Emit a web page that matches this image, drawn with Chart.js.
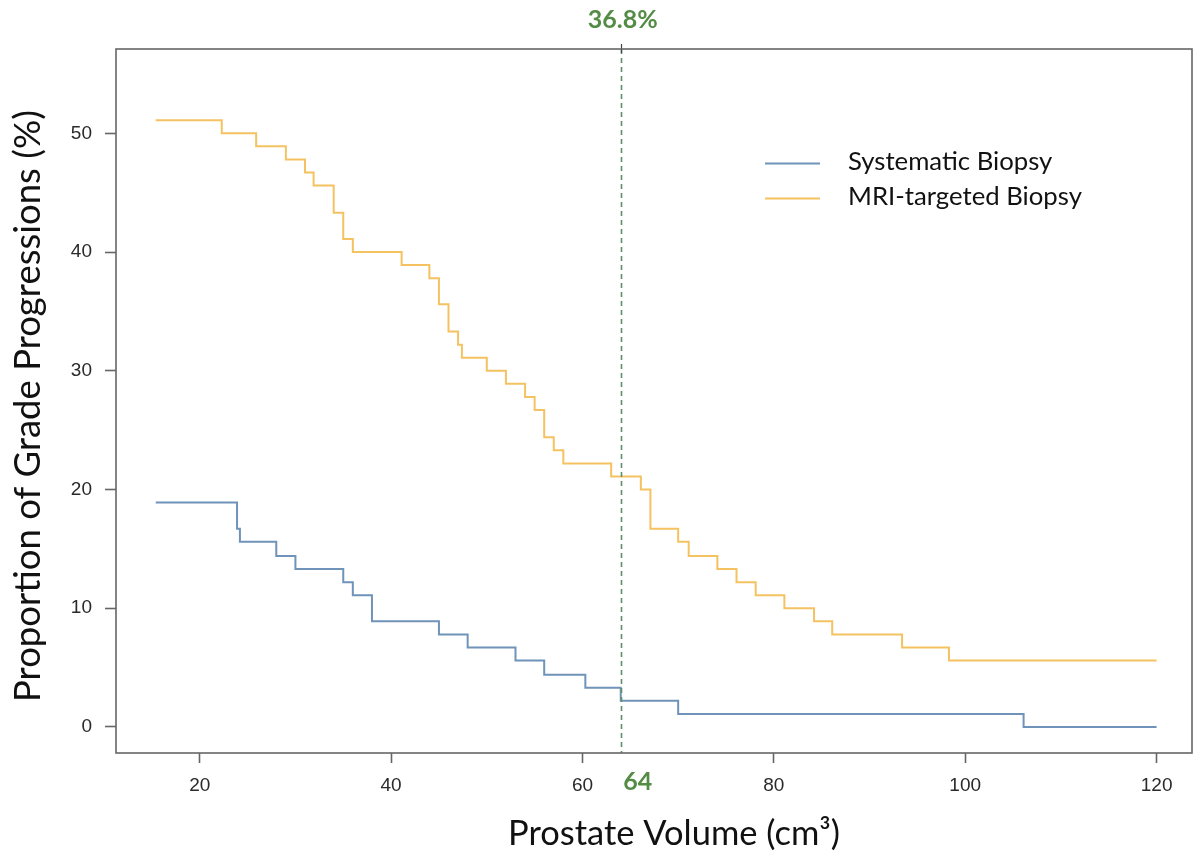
<!DOCTYPE html>
<html>
<head>
<meta charset="utf-8">
<script src="https://cdn.jsdelivr.net/npm/chart.js@4.4.0/dist/chart.umd.min.js"></script>
<style>
  html, body { margin: 0; padding: 0; background: #ffffff; }
  #wrap { width: 1200px; height: 861px; }
</style>
</head>
<body>
<div id="wrap"><canvas id="c" width="1200" height="861"></canvas></div>
<script>
// ---- Data ----
const seriesNames = ['Systematic Biopsy', 'MRI-targeted Biopsy'];

const sysVolume = [15.4, 23.9, 24.2, 28.0, 30.0, 35.0, 36.0, 38.0, 45.0, 48.0, 53.0, 56.0, 60.3, 64.0, 70.0, 106.1, 120.0];
const sysPct    = [18.9, 16.7, 15.6, 14.4, 13.3, 12.2, 11.1, 8.9, 7.8, 6.7, 5.6, 4.4, 3.3, 2.2, 1.1, 0.0, 0.0];

const mriVolume = [15.4, 22.3, 25.9, 29.0, 31.0, 31.9, 34.0, 35.0, 36.0, 41.1, 44.0, 45.0, 46.0, 47.0, 47.4, 50.0,
                   52.0, 54.0, 55.0, 56.0, 57.0, 58.0, 63.0, 66.1, 67.1, 70.0, 71.1, 74.1, 76.1, 78.1, 81.1, 84.2,
                   86.1, 93.4, 98.3, 120.0];
const mriPct    = [51.1, 50.0, 48.9, 47.8, 46.7, 45.6, 43.3, 41.1, 40.0, 38.9, 37.8, 35.6, 33.3, 32.2, 31.1, 30.0,
                   28.9, 27.8, 26.7, 24.4, 23.3, 22.2, 21.1, 20.0, 16.7, 15.6, 14.4, 13.3, 12.2, 11.1, 10.0, 8.9,
                   7.8, 6.7, 5.6, 5.6];

const xTicks = [20, 40, 60, 80, 100, 120];
const yTicks = [0, 10, 20, 30, 40, 50];

const cutoffVolume = 64;
const cutoffLabel = '64';
const cutoffPctLabel = '36.8%';

const xTitle = 'Prostate Volume (cm\u00B3)';
const yTitle = 'Proportion of Grade Progressions (%)';

// ---- Styling ----
const colSys = '#6f93b9';
const colMri = '#f5c261';
const green = '#548c45';
const axisCol = '#666666';
const titleFamily = 'Lato, "Open Sans", sans-serif';
const tickFamily = '"Liberation Sans", Arial, sans-serif';

function toPoints(xs, ys) { return xs.map((x, i) => ({ x: x, y: ys[i] })); }

function fitFont(ctx, text, weight, family, targetWidth) {
  ctx.font = weight + ' 100px ' + family;
  const w = ctx.measureText(text).width;
  return (100 * targetWidth / w);
}

const overlay = {
  id: 'overlay',
  afterDatasetsDraw(chart) {
    const ctx = chart.ctx;
    const a = chart.chartArea;
    const xs = chart.scales.x;
    ctx.save();
    const cx = Math.round(xs.getPixelForValue(cutoffVolume)) + 0.5;
    ctx.strokeStyle = '#5f8f6c';
    ctx.lineWidth = 1.6;
    ctx.setLineDash([5, 4]);
    ctx.beginPath();
    ctx.moveTo(cx, a.top);
    ctx.lineTo(cx, a.bottom);
    ctx.stroke();
    ctx.setLineDash([]);
    ctx.strokeStyle = '#444444';
    ctx.lineWidth = 1.2;
    ctx.beginPath();
    ctx.moveTo(cx, a.top - 5);
    ctx.lineTo(cx, a.top + 4);
    ctx.stroke();
    ctx.restore();
  },
  afterDraw(chart) {
    const ctx = chart.ctx;
    const a = chart.chartArea;
    const xs = chart.scales.x;
    ctx.save();
    ctx.strokeStyle = axisCol;
    ctx.lineWidth = 1.6;
    ctx.strokeRect(a.left, a.top, a.right - a.left, a.bottom - a.top);

    const cx = xs.getPixelForValue(cutoffVolume);
    ctx.fillStyle = green;
    ctx.textAlign = 'center';
    ctx.textBaseline = 'middle';
    let s = fitFont(ctx, cutoffPctLabel, 'bold', titleFamily, 70);
    ctx.font = 'bold ' + s + 'px ' + titleFamily;
    ctx.fillText(cutoffPctLabel, cx + 2, 20);
    s = fitFont(ctx, cutoffLabel, 'bold', titleFamily, 29);
    ctx.font = 'bold ' + s + 'px ' + titleFamily;
    ctx.fillText(cutoffLabel, cx + 17, 782);

    ctx.fillStyle = '#111111';
    s = fitFont(ctx, xTitle, 'normal', titleFamily, 332);
    ctx.font = 'normal ' + s + 'px ' + titleFamily;
    ctx.fillText(xTitle, 674, 834);

    s = fitFont(ctx, yTitle, 'normal', titleFamily, 592);
    ctx.font = 'normal ' + s + 'px ' + titleFamily;
    ctx.translate(28, 406);
    ctx.rotate(-Math.PI / 2);
    ctx.fillText(yTitle, 0, 0);
    ctx.setTransform(1, 0, 0, 1, 0, 0);

    const legendRows = [
      { name: seriesNames[0], color: colSys, y: 163 },
      { name: seriesNames[1], color: colMri, y: 198 }
    ];
    const legendSize = fitFont(ctx, seriesNames[1], 'normal', titleFamily, 234);
    ctx.font = 'normal ' + legendSize + 'px ' + titleFamily;
    ctx.textAlign = 'left';
    legendRows.forEach(r => {
      ctx.strokeStyle = r.color;
      ctx.lineWidth = 2;
      ctx.beginPath();
      ctx.moveTo(765, r.y + 0.5);
      ctx.lineTo(820, r.y + 0.5);
      ctx.stroke();
      ctx.fillStyle = '#111111';
      ctx.fillText(r.name, 848, r.y - 1);
    });
    ctx.restore();
  }
};

new Chart(document.getElementById('c'), {
  type: 'line',
  data: {
    datasets: [
      { label: seriesNames[0], data: toPoints(sysVolume, sysPct), borderColor: colSys, borderWidth: 2,
        stepped: 'before', pointRadius: 0, fill: false },
      { label: seriesNames[1], data: toPoints(mriVolume, mriPct), borderColor: colMri, borderWidth: 2,
        stepped: 'before', pointRadius: 0, fill: false }
    ]
  },
  options: {
    responsive: false,
    animation: false,
    devicePixelRatio: 1,
    layout: { padding: { top: 49, right: 8, left: 0, bottom: 0 } },
    plugins: { legend: { display: false }, tooltip: { enabled: false } },
    scales: {
      x: {
        type: 'linear',
        min: 11.25,
        max: 123.7,
        afterBuildTicks(scale) { scale.ticks = xTicks.map(v => ({ value: v })); },
        afterFit(scale) { scale.height = 108; },
        border: { display: false },
        grid: { drawOnChartArea: false, drawTicks: true, tickLength: 10, tickColor: axisCol, tickWidth: 1.6 },
        ticks: { color: '#2a2a2a', font: { family: tickFamily, size: 19 }, padding: 11,
                 maxRotation: 0, autoSkip: false }
      },
      y: {
        type: 'linear',
        min: -2.19,
        max: 57.1,
        afterBuildTicks(scale) { scale.ticks = yTicks.map(v => ({ value: v })); },
        afterFit(scale) { scale.width = 116; },
        border: { display: false },
        grid: { drawOnChartArea: false, drawTicks: true, tickLength: 11, tickColor: axisCol, tickWidth: 1.6 },
        ticks: { color: '#2a2a2a', font: { family: tickFamily, size: 19 }, padding: 13,
                 autoSkip: false }
      }
    }
  },
  plugins: [overlay]
});
</script>
</body>
</html>
